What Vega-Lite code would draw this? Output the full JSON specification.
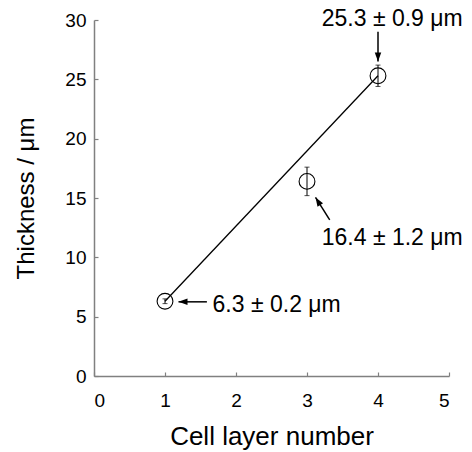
{
  "$schema": "https://vega.github.io/schema/vega-lite/v6.json",
  "width": 355,
  "height": 356,
  "autosize": "none",
  "padding": {"left": 94, "top": 20, "right": 23, "bottom": 76},
  "background": "white",
  "view": {"stroke": null},
  "config": {
    "font": "Liberation Sans",
    "axis": {
      "labelFont": "Liberation Sans",
      "titleFont": "Liberation Sans",
      "labelColor": "black",
      "titleColor": "black",
      "labelFontSize": 19,
      "titleFontSize": 24,
      "titleFontWeight": "normal",
      "domainColor": "#808080",
      "tickColor": "#808080",
      "domainWidth": 1.5,
      "tickWidth": 1.2,
      "tickSize": -4,
      "grid": false
    },
    "text": {"font": "Liberation Sans"}
  },
  "datasets": {
    "points": [
      {"x": 1, "y": 6.3, "lo": 6.1, "hi": 6.5},
      {"x": 3, "y": 16.4, "lo": 15.2, "hi": 17.6},
      {"x": 4, "y": 25.3, "lo": 24.4, "hi": 26.2}
    ],
    "fit": [
      {"x": 1, "y": 6.3},
      {"x": 4, "y": 25.3}
    ],
    "arrows": [
      {"id": "a", "x": 4, "y": 29.0, "x2": 4, "y2": 26.5},
      {"id": "b", "x": 3.32, "y": 13.15, "x2": 3.12, "y2": 15.05},
      {"id": "c", "x": 1.59, "y": 6.25, "x2": 1.19, "y2": 6.25}
    ],
    "notes": [
      {"id": "a", "x": 4.2, "y": 29.5, "text": "25.3 ± 0.9 μm"},
      {"id": "b", "x": 4.2, "y": 11.05, "text": "16.4 ± 1.2 μm"},
      {"id": "c", "x": 1.67, "y": 5.42, "text": "6.3 ± 0.2 μm"}
    ]
  },
  "layer": [
    {
      "data": {"name": "fit"},
      "mark": {"type": "line", "color": "black", "strokeWidth": 1.3},
      "encoding": {
        "x": {"field": "x", "type": "quantitative", "scale": {"domain": [0, 5], "nice": false},
              "axis": {"title": "Cell layer number", "values": [0, 1, 2, 3, 4, 5], "format": "d", "labelPadding": 19, "titlePadding": 13, "titleFontSize": 26}},
        "y": {"field": "y", "type": "quantitative", "scale": {"domain": [0, 30], "nice": false},
              "axis": {"title": "Thickness / μm", "values": [0, 5, 10, 15, 20, 25, 30], "format": "d", "labelPadding": 12, "titlePadding": 26}}
      }
    },
    {
      "data": {"name": "points"},
      "mark": {"type": "rule", "color": "black", "strokeWidth": 1},
      "encoding": {
        "x": {"field": "x", "type": "quantitative"},
        "y": {"field": "lo", "type": "quantitative"},
        "y2": {"field": "hi"}
      }
    },
    {
      "data": {"name": "points"},
      "mark": {"type": "tick", "color": "black", "thickness": 1, "size": 5, "orient": "horizontal"},
      "encoding": {
        "x": {"field": "x", "type": "quantitative"},
        "y": {"field": "lo", "type": "quantitative"}
      }
    },
    {
      "data": {"name": "points"},
      "mark": {"type": "tick", "color": "black", "thickness": 1, "size": 5, "orient": "horizontal"},
      "encoding": {
        "x": {"field": "x", "type": "quantitative"},
        "y": {"field": "hi", "type": "quantitative"}
      }
    },
    {
      "data": {"name": "points"},
      "mark": {"type": "point", "shape": "circle", "filled": true, "fill": "white", "fillOpacity": 0, "stroke": "black", "strokeWidth": 1.1, "size": 250, "opacity": 1},
      "encoding": {
        "x": {"field": "x", "type": "quantitative"},
        "y": {"field": "y", "type": "quantitative"}
      }
    },
    {
      "data": {"name": "arrows"},
      "mark": {"type": "rule", "color": "black", "strokeWidth": 1.5},
      "encoding": {
        "x": {"field": "x", "type": "quantitative"},
        "y": {"field": "y", "type": "quantitative"},
        "x2": {"field": "x2"},
        "y2": {"field": "y2"}
      }
    },
    {
      "data": {"name": "arrows"},
      "transform": [{"filter": "datum.id === 'a'"}],
      "mark": {"type": "point", "shape": "M0,0 L-0.36,1 L0.36,1 Z", "filled": true, "color": "black", "opacity": 1, "size": 324, "angle": 180},
      "encoding": {
        "x": {"field": "x2", "type": "quantitative"},
        "y": {"field": "y2", "type": "quantitative"}
      }
    },
    {
      "data": {"name": "arrows"},
      "transform": [{"filter": "datum.id === 'b'"}],
      "mark": {"type": "point", "shape": "M0,0 L-0.36,1 L0.36,1 Z", "filled": true, "color": "black", "opacity": 1, "size": 324, "angle": 328},
      "encoding": {
        "x": {"field": "x2", "type": "quantitative"},
        "y": {"field": "y2", "type": "quantitative"}
      }
    },
    {
      "data": {"name": "arrows"},
      "transform": [{"filter": "datum.id === 'c'"}],
      "mark": {"type": "point", "shape": "M0,0 L-0.36,1 L0.36,1 Z", "filled": true, "color": "black", "opacity": 1, "size": 324, "angle": 270},
      "encoding": {
        "x": {"field": "x2", "type": "quantitative"},
        "y": {"field": "y2", "type": "quantitative"}
      }
    },
    {
      "data": {"name": "notes"},
      "transform": [{"filter": "datum.id !== 'c'"}],
      "mark": {"type": "text", "align": "center", "baseline": "alphabetic", "fontSize": 23, "color": "black"},
      "encoding": {
        "x": {"field": "x", "type": "quantitative"},
        "y": {"field": "y", "type": "quantitative"},
        "text": {"field": "text"}
      }
    },
    {
      "data": {"name": "notes"},
      "transform": [{"filter": "datum.id === 'c'"}],
      "mark": {"type": "text", "align": "left", "baseline": "alphabetic", "fontSize": 23, "color": "black"},
      "encoding": {
        "x": {"field": "x", "type": "quantitative"},
        "y": {"field": "y", "type": "quantitative"},
        "text": {"field": "text"}
      }
    }
  ]
}
